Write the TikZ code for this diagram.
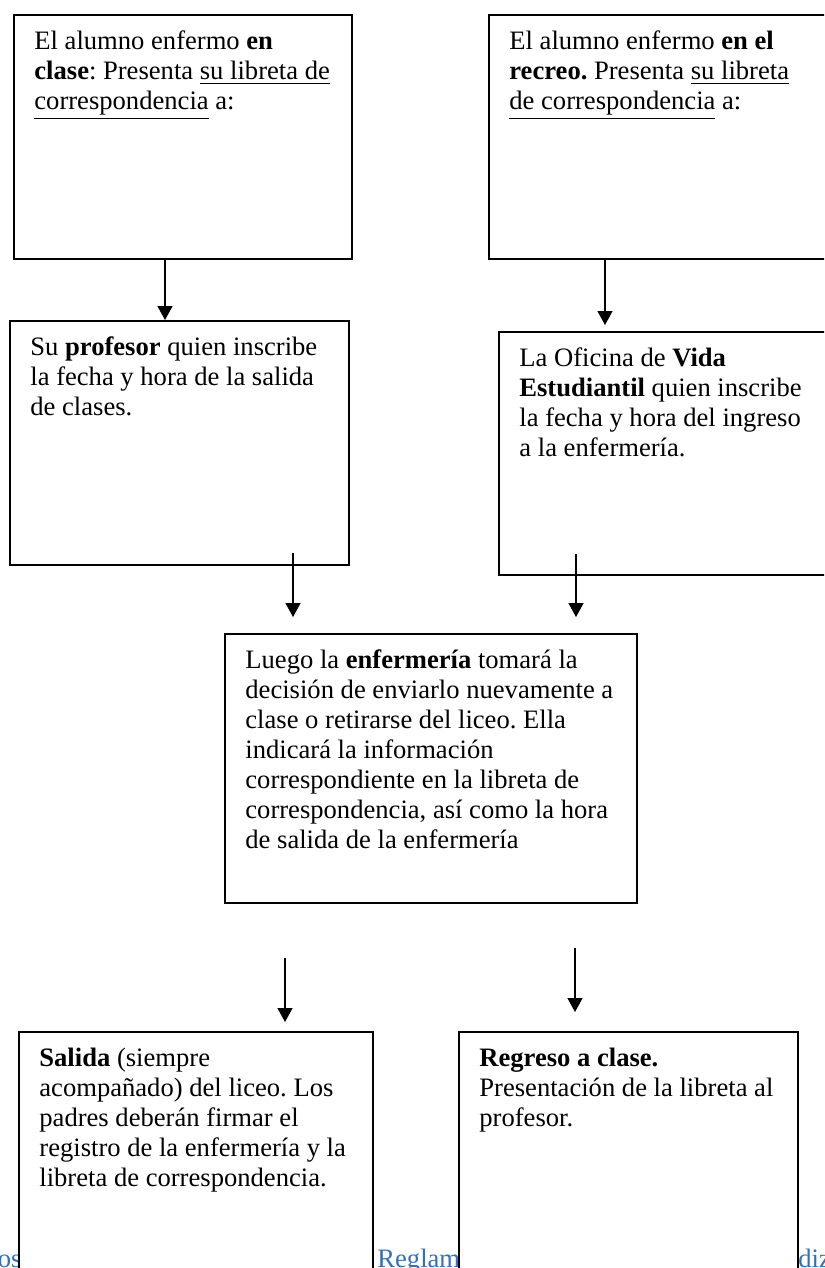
\documentclass[tikz,border=0pt]{standalone}
\usepackage{fontspec}
\setmainfont{Liberation Serif}
\usetikzlibrary{arrows.meta,calc}
\definecolor{pieazul}{RGB}{52,112,182}
\frenchspacing
\tikzset{
	caja/.style={draw, line width=1pt, fill=white, inner sep=0pt, anchor=north west},
	texto/.style={anchor=north west, align=left, inner sep=0pt, font=\fontsize{13.3}{15}\selectfont},
	flecha/.style={-{Triangle[width=7.5pt,length=7pt]}, line width=0.65pt},
	pie/.style={inner sep=0pt, text=pieazul, font=\fontsize{13.3}{15}\selectfont}
}
\begin{document}
\begin{tikzpicture}[x=0.5pt,y=-0.5pt]
		\clip (0,0) rectangle (824,1268);
		%footer behind the boxes
		\node[pie, anchor=base east] (p1) at (22,1267) {os};
		\node[pie, anchor=base west] (p2) at (377,1267) {Reglam};
		\node[pie, anchor=base west] (p3) at (798,1267) {diz};
		%boxes
		\node[caja, minimum width=169pt, minimum height=122pt] (b1) at (13,14) {};
		\node[caja, minimum width=171pt, minimum height=122pt] (b2) at (488,14) {};
		\node[caja, minimum width=169.5pt, minimum height=122pt] (b3) at (9,320) {};
		\node[caja, minimum width=166pt, minimum height=121.5pt] (b4) at (498,331) {};
		\node[caja, minimum width=206pt, minimum height=134.5pt] (b5) at (224,633) {};
		\node[caja, minimum width=177pt, minimum height=130pt] (b6) at (18,1031) {};
		\node[caja, minimum width=169.5pt, minimum height=130pt] (b7) at (458,1031) {};
		%texts
		\node[texto] (t1) at ([shift={(10.5pt,-8.4pt)}]b1.north west) {El alumno enfermo \textbf{en}\\ \textbf{clase}: Presenta \underline{su libreta de}\\ \underline{correspondencia} a:};
		\node[texto] (t2) at ([shift={(10.5pt,-8.4pt)}]b2.north west) {El alumno enfermo \textbf{en el}\\ \textbf{recreo.} Presenta \underline{su libreta}\\ \underline{de correspondencia} a:};
		\node[texto] (t3) at ([shift={(10.5pt,-8.4pt)}]b3.north west) {Su \textbf{profesor} quien inscribe\\ la fecha y hora de la salida\\ de clases.};
		\node[texto] (t4) at ([shift={(10.5pt,-8.4pt)}]b4.north west) {La Oficina de \textbf{Vida}\\ \textbf{Estudiantil} quien inscribe\\ la fecha y hora del ingreso\\ a la enfermería.};
		\node[texto] (t5) at ([shift={(10.5pt,-8.4pt)}]b5.north west) {Luego la \textbf{enfermería} tomará la\\ decisión de enviarlo nuevamente a\\ clase o retirarse del liceo. Ella\\ indicará la información\\ correspondiente en la libreta de\\ correspondencia, así como la hora\\ de salida de la enfermería};
		\node[texto] (t6) at ([shift={(10.5pt,-8.4pt)}]b6.north west) {\textbf{Salida} (siempre\\ acompañado) del liceo. Los\\ padres deberán firmar el\\ registro de la enfermería y la\\ libreta de correspondencia.};
		\node[texto] (t7) at ([shift={(10.5pt,-8.4pt)}]b7.north west) {\textbf{Regreso a clase.}\\ Presentación de la libreta al\\ profesor.};
		%arrows
		\draw[flecha] (b1.south -| 165,0) -- (b3.north -| 165,0);
		\draw[flecha, shorten >=3pt] (b2.south -| 605,0) -- (b4.north -| 605,0);
		\draw[flecha] ($(b3.south -| 293,0)+(0,-13)$) -- ($(b5.north -| 293,0)+(0,-16)$);
		\draw[flecha] ($(b4.south -| 576,0)+(0,-22)$) -- ($(b5.north -| 576,0)+(0,-16)$);
		\draw[flecha] ($(b5.south -| 285,0)+(0,54)$) -- ($(b6.north -| 285,0)+(0,-9)$);
		\draw[flecha] ($(b5.south -| 575,0)+(0,44)$) -- ($(b7.north -| 575,0)+(0,-19)$);
	\end{tikzpicture}
\end{document}
